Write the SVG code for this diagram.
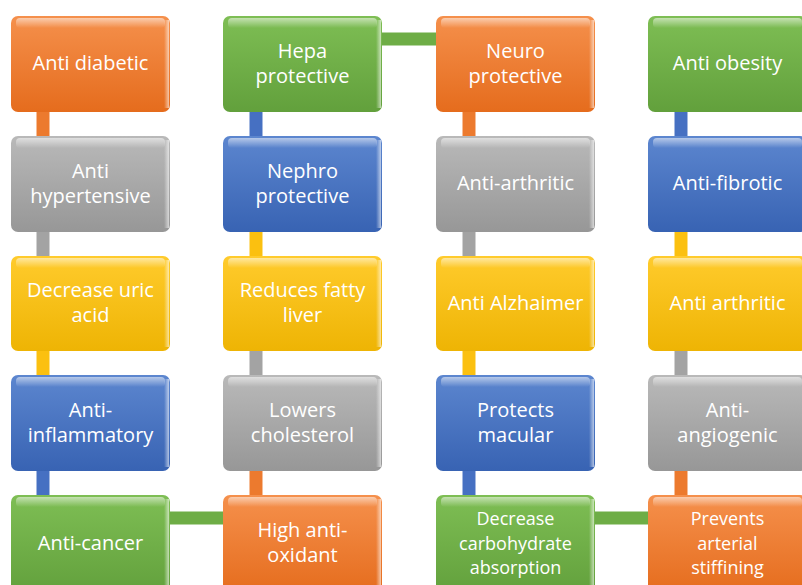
<svg xmlns="http://www.w3.org/2000/svg" width="802" height="585" viewBox="0 0 802 585">
<defs>
<linearGradient id="gO" x1="0" y1="0" x2="0" y2="1"><stop offset="0" stop-color="#F5904C"/><stop offset="1" stop-color="#E56C1D"/></linearGradient>
<linearGradient id="gG" x1="0" y1="0" x2="0" y2="1"><stop offset="0" stop-color="#B9B9B9"/><stop offset="1" stop-color="#979797"/></linearGradient>
<linearGradient id="gY" x1="0" y1="0" x2="0" y2="1"><stop offset="0" stop-color="#FFCB2C"/><stop offset="1" stop-color="#EEB404"/></linearGradient>
<linearGradient id="gB" x1="0" y1="0" x2="0" y2="1"><stop offset="0" stop-color="#5C86CF"/><stop offset="1" stop-color="#3863B3"/></linearGradient>
<linearGradient id="gN" x1="0" y1="0" x2="0" y2="1"><stop offset="0" stop-color="#7EBE54"/><stop offset="1" stop-color="#62A03C"/></linearGradient>
<linearGradient id="gloss" x1="0" y1="0" x2="0" y2="1"><stop offset="0" stop-color="#fff" stop-opacity="0.55"/><stop offset="1" stop-color="#fff" stop-opacity="0"/></linearGradient>
<linearGradient id="edge" x1="0" y1="0" x2="1" y2="0"><stop offset="0" stop-color="#fff" stop-opacity="0"/><stop offset="1" stop-color="#fff" stop-opacity="0.6"/></linearGradient>
</defs>
<style>
.bx{rx:7px;ry:7px}
.gl{fill:url(#gloss)}
.ed{fill:url(#edge)}
.t{fill:#fff;font-family:"Open Sans","Liberation Sans",sans-serif;font-size:20px;text-anchor:middle}
.t3{font-size:18px}
.c{stroke-width:13;fill:none}
.cO{stroke:#EC7A2E}.cG{stroke:#A3A3A3}.cY{stroke:#FBC010}.cB{stroke:#4670C2}.cN{stroke:#6EAD46}
</style>
<g id="connectors">
<line class="c cO" x1="43" y1="110" x2="43" y2="138"/>
<line class="c cG" x1="43" y1="230" x2="43" y2="258"/>
<line class="c cY" x1="43" y1="348" x2="43" y2="377"/>
<line class="c cB" x1="43" y1="469" x2="43" y2="497"/>
<line class="c cN" x1="168" y1="518" x2="225" y2="518"/>
<line class="c cO" x1="256" y1="469" x2="256" y2="497"/>
<line class="c cG" x1="256" y1="348" x2="256" y2="377"/>
<line class="c cY" x1="256" y1="230" x2="256" y2="258"/>
<line class="c cB" x1="256" y1="110" x2="256" y2="138"/>
<line class="c cN" x1="381" y1="39" x2="438" y2="39"/>
<line class="c cO" x1="469" y1="110" x2="469" y2="138"/>
<line class="c cG" x1="469" y1="230" x2="469" y2="258"/>
<line class="c cY" x1="469" y1="348" x2="469" y2="377"/>
<line class="c cB" x1="469" y1="469" x2="469" y2="497"/>
<line class="c cN" x1="593" y1="518" x2="650" y2="518"/>
<line class="c cO" x1="681" y1="469" x2="681" y2="497"/>
<line class="c cG" x1="681" y1="348" x2="681" y2="377"/>
<line class="c cY" x1="681" y1="230" x2="681" y2="258"/>
<line class="c cB" x1="681" y1="110" x2="681" y2="138"/>
</g>
<g id="n1"><rect class="bx" x="11" y="16" width="159" height="96" fill="url(#gO)"/><rect class="gl" x="16" y="18" width="149" height="10" rx="4"/><rect class="ed" x="164" y="20" width="5" height="88"/><text class="t" x="90.5" y="70">Anti diabetic</text></g>
<g id="n2"><rect class="bx" x="11" y="136" width="159" height="96" fill="url(#gG)"/><rect class="gl" x="16" y="138" width="149" height="10" rx="4"/><rect class="ed" x="164" y="140" width="5" height="88"/><text class="t" x="90.5" y="178">Anti<tspan x="90.5" dy="25">hypertensive</tspan></text></g>
<g id="n3"><rect class="bx" x="11" y="256" width="159" height="95" fill="url(#gY)"/><rect class="gl" x="16" y="258" width="149" height="10" rx="4"/><rect class="ed" x="164" y="260" width="5" height="87"/><text class="t" x="90.5" y="297">Decrease uric<tspan x="90.5" dy="25">acid</tspan></text></g>
<g id="n4"><rect class="bx" x="11" y="375" width="159" height="96" fill="url(#gB)"/><rect class="gl" x="16" y="377" width="149" height="10" rx="4"/><rect class="ed" x="164" y="379" width="5" height="88"/><text class="t" x="90.5" y="417">Anti-<tspan x="90.5" dy="25">inflammatory</tspan></text></g>
<g id="n5"><rect class="bx" x="11" y="495" width="159" height="100" fill="url(#gN)"/><rect class="gl" x="16" y="497" width="149" height="10" rx="4"/><rect class="ed" x="164" y="499" width="5" height="88"/><text class="t" x="90.5" y="550">Anti-cancer</text></g>
<g id="n6"><rect class="bx" x="223" y="495" width="159" height="100" fill="url(#gO)"/><rect class="gl" x="228" y="497" width="149" height="10" rx="4"/><rect class="ed" x="376" y="499" width="5" height="88"/><text class="t" x="302.5" y="537">High anti-<tspan x="302.5" dy="25">oxidant</tspan></text></g>
<g id="n7"><rect class="bx" x="223" y="375" width="159" height="96" fill="url(#gG)"/><rect class="gl" x="228" y="377" width="149" height="10" rx="4"/><rect class="ed" x="376" y="379" width="5" height="88"/><text class="t" x="302.5" y="417">Lowers<tspan x="302.5" dy="25">cholesterol</tspan></text></g>
<g id="n8"><rect class="bx" x="223" y="256" width="159" height="95" fill="url(#gY)"/><rect class="gl" x="228" y="258" width="149" height="10" rx="4"/><rect class="ed" x="376" y="260" width="5" height="87"/><text class="t" x="302.5" y="297">Reduces fatty<tspan x="302.5" dy="25">liver</tspan></text></g>
<g id="n9"><rect class="bx" x="223" y="136" width="159" height="96" fill="url(#gB)"/><rect class="gl" x="228" y="138" width="149" height="10" rx="4"/><rect class="ed" x="376" y="140" width="5" height="88"/><text class="t" x="302.5" y="178">Nephro<tspan x="302.5" dy="25">protective</tspan></text></g>
<g id="n10"><rect class="bx" x="223" y="16" width="159" height="96" fill="url(#gN)"/><rect class="gl" x="228" y="18" width="149" height="10" rx="4"/><rect class="ed" x="376" y="20" width="5" height="88"/><text class="t" x="302.5" y="58">Hepa<tspan x="302.5" dy="25">protective</tspan></text></g>
<g id="n11"><rect class="bx" x="436" y="16" width="159" height="96" fill="url(#gO)"/><rect class="gl" x="441" y="18" width="149" height="10" rx="4"/><rect class="ed" x="589" y="20" width="5" height="88"/><text class="t" x="515.5" y="58">Neuro<tspan x="515.5" dy="25">protective</tspan></text></g>
<g id="n12"><rect class="bx" x="436" y="136" width="159" height="96" fill="url(#gG)"/><rect class="gl" x="441" y="138" width="149" height="10" rx="4"/><rect class="ed" x="589" y="140" width="5" height="88"/><text class="t" x="515.5" y="190">Anti-arthritic</text></g>
<g id="n13"><rect class="bx" x="436" y="256" width="159" height="95" fill="url(#gY)"/><rect class="gl" x="441" y="258" width="149" height="10" rx="4"/><rect class="ed" x="589" y="260" width="5" height="87"/><text class="t" x="515.5" y="310">Anti Alzhaimer</text></g>
<g id="n14"><rect class="bx" x="436" y="375" width="159" height="96" fill="url(#gB)"/><rect class="gl" x="441" y="377" width="149" height="10" rx="4"/><rect class="ed" x="589" y="379" width="5" height="88"/><text class="t" x="515.5" y="417">Protects<tspan x="515.5" dy="25">macular</tspan></text></g>
<g id="n15"><rect class="bx" x="436" y="495" width="159" height="100" fill="url(#gN)"/><rect class="gl" x="441" y="497" width="149" height="10" rx="4"/><rect class="ed" x="589" y="499" width="5" height="88"/><text class="t t3" x="515.5" y="525">Decrease<tspan x="515.5" dy="24.6">carbohydrate</tspan><tspan x="515.5" dy="24.6">absorption</tspan></text></g>
<g id="n16"><rect class="bx" x="648" y="495" width="159" height="100" fill="url(#gO)"/><rect class="gl" x="653" y="497" width="149" height="10" rx="4"/><text class="t t3" x="727.5" y="525">Prevents<tspan x="727.5" dy="24.6">arterial</tspan><tspan x="727.5" dy="24.6">stiffining</tspan></text></g>
<g id="n17"><rect class="bx" x="648" y="375" width="159" height="96" fill="url(#gG)"/><rect class="gl" x="653" y="377" width="149" height="10" rx="4"/><text class="t" x="727.5" y="417">Anti-<tspan x="727.5" dy="25">angiogenic</tspan></text></g>
<g id="n18"><rect class="bx" x="648" y="256" width="159" height="95" fill="url(#gY)"/><rect class="gl" x="653" y="258" width="149" height="10" rx="4"/><text class="t" x="727.5" y="310">Anti arthritic</text></g>
<g id="n19"><rect class="bx" x="648" y="136" width="159" height="96" fill="url(#gB)"/><rect class="gl" x="653" y="138" width="149" height="10" rx="4"/><text class="t" x="727.5" y="190">Anti-fibrotic</text></g>
<g id="n20"><rect class="bx" x="648" y="16" width="159" height="96" fill="url(#gN)"/><rect class="gl" x="653" y="18" width="149" height="10" rx="4"/><text class="t" x="727.5" y="70">Anti obesity</text></g>
</svg>
